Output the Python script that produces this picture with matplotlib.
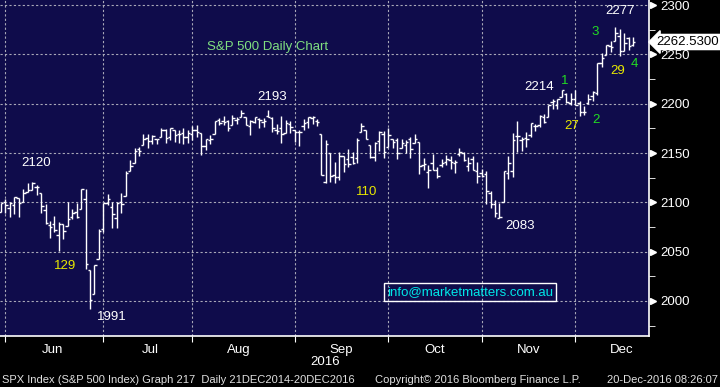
import pandas as pd
import matplotlib
matplotlib.use('Agg')
import matplotlib.pyplot as plt
from matplotlib.ticker import FixedLocator, NullFormatter

# SPX daily bars, 27 May 2016 - 19 Dec 2016
dates = pd.bdate_range('2016-05-27', '2016-12-19', freq='C',
                       holidays=['2016-05-30', '2016-07-04', '2016-09-05', '2016-11-24'])

opens = [2090.1, 2100.1,
         2093.9, 2097.7, 2104.1, 2100.8, 2110.2, 2112.7, 2115.7, 2109.6, 2091.8, 2076.7, 2077.6,
         2066.4, 2078.2, 2075.6, 2085.2, 2089.8, 2092.8, 2103.8, 2031.5, 2006.7, 2042.7, 2073.2,
         2099.3, 2095.1, 2084.4, 2100.4, 2106.0, 2131.7, 2139.5, 2153.8, 2157.9, 2165.1, 2162.0,
         2163.8, 2166.1, 2172.9, 2166.5, 2173.7, 2169.0, 2169.8, 2166.1, 2168.8,
         2173.1, 2169.9, 2156.8, 2163.5, 2168.8, 2183.8, 2182.2, 2182.8, 2178.0, 2183.7, 2186.1,
         2186.2, 2177.8, 2181.9, 2184.2, 2181.6, 2187.8, 2185.1, 2173.3, 2175.1, 2170.2, 2179.5, 2173.6,
         2171.3, 2177.5, 2181.6, 2185.2, 2182.8, 2169.1, 2120.9, 2150.5, 2127.9, 2125.4, 2146.5,
         2144.0, 2145.9, 2144.6, 2170.9, 2173.3, 2158.5, 2146.0, 2161.9, 2168.9, 2156.5,
         2164.3, 2163.4, 2155.2, 2158.2, 2164.2, 2160.4, 2161.4, 2137.7, 2130.3, 2139.7, 2132.9,
         2138.3, 2140.8, 2142.5, 2139.4, 2148.5, 2149.7, 2137.0, 2144.1, 2132.2, 2129.8,
         2128.7, 2109.4, 2098.8, 2083.8, 2100.6, 2129.9, 2131.6, 2167.5, 2162.7, 2165.6, 2168.3,
         2177.5, 2178.6, 2186.9, 2186.4, 2201.6, 2198.6, 2206.3, 2210.2, 2200.8, 2205.0,
         2200.2, 2191.1, 2200.6, 2207.3, 2210.7, 2241.1, 2249.7, 2258.8, 2263.3, 2268.4, 2253.8,
         2266.8, 2259.2]
highs = [2099.3, 2103.5,
         2100.7, 2105.3, 2104.1, 2113.4, 2119.2, 2120.6, 2117.6, 2109.6, 2098.1, 2081.3, 2085.7,
         2079.6, 2078.2, 2100.7, 2093.7, 2099.7, 2113.3, 2113.3, 2031.5, 2036.1, 2073.1, 2098.9,
         2108.7, 2100.7, 2100.7, 2109.1, 2131.7, 2143.2, 2155.4, 2156.5, 2168.9, 2169.1, 2168.4,
         2164.6, 2175.6, 2174.6, 2175.1, 2173.7, 2173.5, 2175.0, 2172.9, 2177.1,
         2178.3, 2170.2, 2163.8, 2168.2, 2182.9, 2185.4, 2187.7, 2183.4, 2188.5, 2186.3, 2193.8,
         2186.2, 2183.1, 2187.0, 2185.0, 2185.2, 2193.4, 2186.7, 2179.0, 2187.9, 2183.5, 2182.3, 2173.8,
         2173.6, 2184.9, 2186.6, 2187.9, 2184.9, 2169.1, 2163.3, 2150.5, 2141.3, 2151.3, 2146.5,
         2153.6, 2150.8, 2165.1, 2180.0, 2173.8, 2158.5, 2161.1, 2172.4, 2172.7, 2175.3,
         2164.4, 2165.5, 2164.0, 2162.9, 2165.9, 2169.6, 2161.6, 2145.4, 2138.2, 2149.2, 2135.6,
         2144.4, 2148.4, 2147.2, 2142.6, 2154.8, 2151.4, 2145.7, 2147.1, 2140.7, 2133.3,
         2131.5, 2111.8, 2102.6, 2099.1, 2132.0, 2146.9, 2170.1, 2182.3, 2165.9, 2171.4, 2180.8,
         2179.2, 2188.1, 2189.9, 2198.7, 2204.8, 2204.7, 2213.4, 2211.1, 2210.5, 2214.1,
         2203.0, 2198.0, 2209.4, 2212.8, 2241.6, 2251.7, 2259.8, 2264.0, 2277.5, 2276.2, 2272.1,
         2268.1, 2267.5]
lows = [2090.1, 2088.7,
        2085.1, 2088.6, 2085.4, 2100.8, 2110.2, 2112.7, 2107.0, 2089.6, 2078.5, 2064.1, 2069.8,
        2050.4, 2062.8, 2075.6, 2083.0, 2084.4, 2092.8, 2032.6, 1991.7, 2006.7, 2042.7, 2070.0,
        2097.5, 2074.0, 2074.0, 2089.4, 2106.0, 2131.7, 2139.5, 2147.0, 2157.9, 2155.5, 2159.5,
        2159.0, 2166.1, 2159.8, 2163.2, 2161.2, 2160.2, 2159.1, 2159.7, 2163.5,
        2166.4, 2147.6, 2152.7, 2159.1, 2168.8, 2177.9, 2178.6, 2172.0, 2178.0, 2179.4, 2186.1,
        2178.1, 2168.5, 2180.5, 2175.1, 2176.0, 2186.8, 2171.3, 2169.7, 2160.4, 2170.2, 2170.4, 2161.4,
        2157.1, 2173.6, 2175.1, 2179.1, 2177.5, 2127.8, 2119.1, 2120.3, 2119.6, 2122.4, 2131.2,
        2135.9, 2139.2, 2139.6, 2170.9, 2164.0, 2145.0, 2141.6, 2151.8, 2145.2, 2156.5,
        2154.8, 2144.0, 2155.2, 2150.3, 2144.9, 2160.4, 2128.8, 2132.8, 2114.7, 2133.0, 2124.4,
        2135.5, 2138.2, 2133.4, 2130.1, 2146.9, 2141.9, 2131.6, 2132.5, 2119.4, 2125.5,
        2097.9, 2094.0, 2085.2, 2083.8, 2100.6, 2123.6, 2125.4, 2151.2, 2152.5, 2156.1, 2166.4,
        2172.2, 2176.6, 2180.4, 2186.4, 2194.5, 2194.5, 2206.3, 2200.4, 2198.9, 2198.8,
        2187.4, 2188.4, 2200.0, 2202.5, 2208.9, 2237.6, 2249.2, 2252.4, 2263.3, 2248.4, 2253.8,
        2254.2, 2258.2]
closes = [2099.1, 2096.9,
          2099.3, 2105.3, 2099.1, 2109.4, 2112.1, 2119.1, 2115.5, 2096.1, 2079.1, 2075.3, 2071.5,
          2078.0, 2071.2, 2083.3, 2088.9, 2085.5, 2113.3, 2037.4, 2000.5, 2036.1, 2070.8, 2098.9,
          2103.0, 2088.6, 2099.7, 2097.9, 2129.9, 2137.2, 2152.1, 2152.4, 2163.8, 2161.7, 2166.9,
          2163.8, 2173.0, 2165.2, 2175.0, 2168.5, 2169.2, 2166.6, 2170.1, 2173.6,
          2170.8, 2157.0, 2163.8, 2164.3, 2182.9, 2180.9, 2181.7, 2175.5, 2185.8, 2184.1, 2190.2,
          2178.2, 2182.2, 2187.0, 2183.9, 2182.6, 2186.9, 2175.4, 2172.5, 2169.0, 2180.4, 2176.1, 2171.0,
          2170.9, 2180.0, 2186.5, 2186.2, 2181.3, 2127.8, 2159.0, 2127.0, 2125.8, 2147.3, 2139.2,
          2139.1, 2139.8, 2163.1, 2177.2, 2164.7, 2146.1, 2159.9, 2171.4, 2151.1, 2168.3,
          2161.2, 2150.5, 2159.7, 2160.8, 2153.7, 2163.7, 2136.7, 2139.2, 2132.6, 2133.0, 2126.5,
          2139.6, 2144.3, 2141.3, 2141.2, 2151.3, 2143.2, 2139.4, 2133.0, 2126.4, 2126.2,
          2111.7, 2097.9, 2088.7, 2085.2, 2131.5, 2139.6, 2163.3, 2167.5, 2164.5, 2164.2, 2180.4,
          2176.9, 2187.1, 2181.9, 2198.2, 2202.9, 2204.7, 2213.4, 2201.7, 2204.7, 2198.8,
          2191.1, 2192.0, 2204.7, 2212.2, 2241.4, 2246.2, 2259.5, 2257.0, 2271.7, 2253.3, 2262.0,
          2258.1, 2262.5]

last_price = 2262.53
y_ticks = [2000, 2050, 2100, 2150, 2200, 2250, 2300]
y_minor = [1975, 2025, 2075, 2125, 2175, 2225, 2275]

# (text, bar index, price, colour)
notes = [('2120', 7.9, 2140, 'white'), ('2193', 60.9, 2207, 'white'),
         ('129', 14.3, 2035, '#e8e800'), ('1991', 24.9, 1984, 'white'),
         ('110', 82.2, 2110, '#e8e800'), ('2083', 116.7, 2076, 'white'),
         ('2214', 121.0, 2217, 'white'), ('1', 126.6, 2222.5, '#22dd22'),
         ('27', 128.3, 2177, '#e8e800'), ('2', 133.6, 2183, '#22dd22'),
         ('3', 133.6, 2273, '#22dd22'), ('2277', 139.0, 2293.5, 'white'),
         ('29', 138.5, 2233.5, '#e8e800'), ('4', 142.4, 2240.5, '#22dd22')]

BG = '#0f0c4b'
FONT = 'Liberation Sans'
plt.rcParams['font.family'] = FONT

fig = plt.figure(figsize=(7.2, 3.87), dpi=100, facecolor='black')
ax = fig.add_axes([0, 1 - 336 / 387, 649 / 720, 336 / 387])
ax.set_facecolor(BG)

x = list(range(len(dates)))
w = 0.55
ax.vlines(x, lows, highs, color='white', lw=1.0)
ax.hlines(opens, [i - w for i in x], x, color='white', lw=1.0)
ax.hlines(closes, x, [i + w for i in x], color='white', lw=1.0)

ax.set_xlim(-0.225, 145.6)
ax.set_ylim(1964.5, 2305.1)

# month boundaries
starts = [i for i in range(1, len(dates)) if dates[i].month != dates[i - 1].month]
grid_x = [i - 1.0 for i in starts]
ax.xaxis.set_major_locator(FixedLocator(grid_x))
ax.xaxis.set_major_formatter(NullFormatter())
ax.xaxis.set_minor_locator(FixedLocator([g + 10.5 for g in grid_x]))
ax.set_xticklabels([dates[i].strftime('%b') for i in starts], minor=True)
ax.tick_params(axis='x', which='major', length=4, color='white', direction='out')
ax.tick_params(axis='x', which='minor', length=0, colors='white', labelsize=9.5, pad=6)

ax.yaxis.tick_right()
ax.set_yticks(y_ticks)
ax.set_yticks(y_minor, minor=True)
ax.tick_params(axis='y', which='major', length=0, colors='white', labelsize=9.5, pad=8)
ax.tick_params(axis='y', which='minor', length=4, color='white', direction='out')
for t in ax.yaxis.get_major_ticks():
    if t.get_loc() == 2300:
        t.label2.set_va('top')
ax.plot([1.006] * len(y_ticks), y_ticks, transform=ax.get_yaxis_transform(),
        ls='none', marker='>', ms=5, color='white', clip_on=False)

ax.grid(True, which='major', color='#a8a8b8', ls=(0, (2, 2)), lw=0.8)
for s in ['top', 'left']:
    ax.spines[s].set_visible(False)
for s in ['bottom', 'right']:
    ax.spines[s].set_color('white')
    ax.spines[s].set_linewidth(1.2)

ax.text(60, 2257.5, 'S&P 500 Daily Chart', color='#80e080', fontsize=9.5,
        ha='center', va='center')
for txt, xi, yi, c in notes:
    ax.text(xi, yi, txt, color=c, fontsize=9.5, ha='center', va='center')

ax.text(105.4, 2009, 'info@marketmatters.com.au', color='#00e8e8', fontsize=9.5,
        ha='center', va='center',
        bbox=dict(boxstyle='square,pad=0.2', fc='none', ec='white', lw=1))

ax.text(1.012, last_price, '%.4f' % last_price, transform=ax.get_yaxis_transform(),
        color='black', fontsize=9.5, ha='left', va='center', clip_on=False,
        bbox=dict(boxstyle='larrow,pad=0.12', fc='white', ec='white'))

fig.text(325 / 720, 1 - 362 / 387, '2016', color='white', fontsize=9.5, ha='center', va='center')
fig.text(2 / 720, 1 - 380 / 387, 'SPX Index (S&P 500 Index) Graph 217  Daily 21DEC2014-20DEC2016',
         color='#e0e0e0', fontsize=8.0, ha='left', va='center')
fig.text(375 / 720, 1 - 380 / 387, 'Copyright\u00a9 2016 Bloomberg Finance L.P.',
         color='#e0e0e0', fontsize=8.0, ha='left', va='center')
fig.text(718 / 720, 1 - 380 / 387, '20-Dec-2016 08:26:07',
         color='#e0e0e0', fontsize=8.0, ha='right', va='center')

fig.savefig('out.png', dpi=100, facecolor='black')
